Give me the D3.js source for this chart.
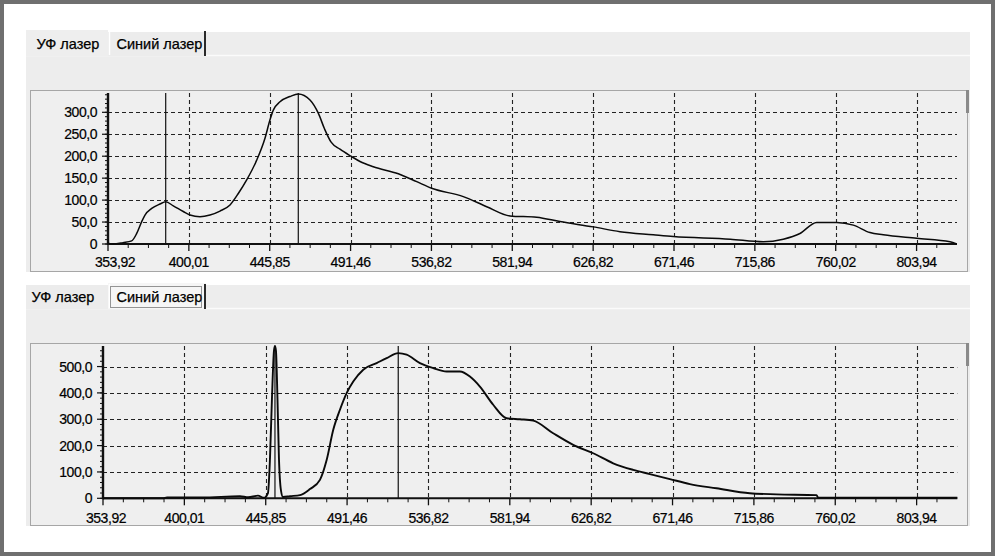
<!DOCTYPE html>
<html><head><meta charset="utf-8">
<script src="https://cdn.jsdelivr.net/npm/d3@7"></script>
<style>
body{margin:0;background:#fff}
svg{display:block;font-family:"Liberation Sans",Arial,sans-serif}
</style>
</head><body><svg id="c" width="995" height="556"></svg>
<script>
// ---------- data ----------
const tabNames = ["УФ лазер", "Синий лазер"];
const xTickValues = [353.92, 400.01, 445.85, 491.46, 536.82, 581.94, 626.82, 671.46, 715.86, 760.02, 803.94];
const xTickLabels = ["353,92", "400,01", "445,85", "491,46", "536,82", "581,94", "626,82", "671,46", "715,86", "760,02", "803,94"];
const xDomainEnd = 825.78;

const uvWavelength = [353.92, 356.77, 362.47, 367.43, 370.28, 373.13, 375.01, 378.83, 383.56, 386.81, 391.14, 396.83,
  400.65, 406.32, 412.0, 417.66, 423.34, 428.04, 432.8, 438.47, 443.17, 446.01, 447.87, 451.65, 457.29, 461.97,
  468.57, 473.25, 476.8, 480.5, 485.49, 491.7, 496.74, 504.21, 518.24, 528.57, 536.96, 554.6, 567.66, 580.66,
  595.49, 608.42, 626.9, 641.64, 660.02, 671.06, 702.37, 720.46, 731.38, 740.5, 749.62, 760.55, 769.56, 778.63,
  785.86, 803.98, 822.0, 825.6];
const uvIntensity = [2, 0, 3, 7, 24, 51, 66, 81, 91, 96, 87, 74,
  66, 62, 66, 75, 89, 115, 146, 191, 241, 283, 305, 324, 336, 342,
  328, 298, 262, 232, 216, 200, 188, 176, 160, 142, 127, 108, 85, 64,
  61, 51, 39, 28, 21, 17, 11, 5, 11, 24, 49, 49, 43, 26,
  21, 13, 5, 0];

const blueWavelength = [353.92, 388.0, 390.2, 410.0, 431.34, 436.0, 441.48, 444.86, 447.1, 448.23, 449.35, 450.47,
  451.03, 451.59, 452.43, 453.27, 454.39, 455.52, 459.44, 465.05, 470.65, 476.25, 480.0, 483.71, 487.46, 491.21,
  494.89, 500.47, 507.93, 513.51, 519.98, 524.66, 532.07, 539.47, 546.9, 554.27, 559.82, 565.36, 572.73, 580.17,
  587.52, 594.85, 605.86, 616.9, 627.93, 638.9, 649.87, 659.03, 669.99, 680.92, 695.48, 713.65, 728.17, 749.86,
  750.73, 825.78];
const blueIntensity = [0, 0, 3, 3, 8, 4, 10, 2, 20, 150, 380, 560,
  578, 560, 380, 150, 30, 5, 8, 12, 35, 70, 145, 260, 336, 399,
  443, 488, 513, 532, 551, 545, 513, 494, 481, 481, 462, 424, 355, 304,
  300, 295, 247, 203, 171, 133, 108, 92, 73, 54, 38, 19, 15, 12,
  3, 2];

const uvYTicks = [0, 50, 100, 150, 200, 250, 300];
const uvYLabels = ["0", "50,0", "100,0", "150,0", "200,0", "250,0", "300,0"];
const blueYTicks = [0, 100, 200, 300, 400, 500];
const blueYLabels = ["0", "100,0", "200,0", "300,0", "400,0", "500,0"];
const uvCursors = [386.81, 461.97];
const blueCursors = [451.03, 519.98];

// ---------- layout ----------
const panels = [
  {top: 32, active: 0, frameTop: 90, frameBottom: 272, axisX: 108, axisRight: 957, yBase: 244, yTop: 93,
   yMax: 344, yMinor: 10, wl: uvWavelength, val: uvIntensity, yTicks: uvYTicks, yLabels: uvYLabels,
   cursors: uvCursors, lw: 1.5, labelY: 267, firstLabelShift: 7},
  {top: 285, active: 1, frameTop: 343, frameBottom: 526, axisX: 103, axisRight: 957.3, yBase: 498.3, yTop: 346,
   yMax: 578, yMinor: 20, wl: blueWavelength, val: blueIntensity, yTicks: blueYTicks, yLabels: blueYLabels,
   cursors: blueCursors, lw: 1.9, labelY: 523, firstLabelShift: 3}
];

const svg = d3.select("#c");
svg.append("rect").attr("width", 995).attr("height", 556).attr("fill", "#fff");
svg.append("rect").attr("x", 2).attr("y", 2).attr("width", 991).attr("height", 552)
  .attr("fill", "none").attr("stroke", "#6f6f6f").attr("stroke-width", 4);

const tabX = [[26, 108], [108, 206]];
const labelFont = {size: 14, ls: -0.45};

panels.forEach(p => {
  const g = svg.append("g");
  // panel background
  g.append("rect").attr("x", 26).attr("y", p.top).attr("width", 944).attr("height", p.frameBottom - p.top)
    .attr("fill", "#ededed");
  g.append("line").attr("x1", 26).attr("x2", 970).attr("y1", p.top + 23.5).attr("y2", p.top + 23.5)
    .attr("stroke", "#fbfbfb").attr("stroke-width", 1.5);
  // tabs
  tabNames.forEach((name, i) => {
    const [x0, x1] = tabX[i];
    const act = i === p.active;
    g.append("rect").attr("x", x0).attr("y", p.top - (act ? 2 : 0)).attr("width", x1 - x0)
      .attr("height", 24 + (act ? 2 : 0)).attr("fill", act ? (i === 1 ? "#f6f6f6" : "#eeeeee") : "#ececec");
    if (i === 1) {
      g.append("line").attr("x1", x0 + 1.5).attr("x2", x0 + 1.5).attr("y1", p.top - 1).attr("y2", p.top + 23)
        .attr("stroke", "#ffffff").attr("stroke-width", 1.5);
      g.append("line").attr("x1", x1 - 1).attr("x2", x1 - 1).attr("y1", p.top - 1).attr("y2", p.top + 24)
        .attr("stroke", "#2a2a2a").attr("stroke-width", 2);
    }
    g.append("text").attr("x", i === 0 ? x0 + (p.active === 0 ? 10.5 : 5.5) : x0 + 8.5)
      .attr("y", p.top + 16.5).attr("font-size", 14.5)
      .attr("fill", "#000").attr("stroke", "#000").attr("stroke-width", 0.25).text(name);
    if (act && i === 1) {
      g.append("rect").attr("x", x0 + 2.5).attr("y", p.top + 1.5).attr("width", x1 - x0 - 7).attr("height", 21)
        .attr("fill", "none").attr("stroke", "#333").attr("stroke-dasharray", "1,1");
    }
  });
  // chart frame
  g.append("rect").attr("x", 30.5).attr("y", p.frameTop + 0.5).attr("width", 937)
    .attr("height", p.frameBottom - p.frameTop - 1).attr("fill", "#efefef").attr("stroke", "#a6a6a6");
  g.append("rect").attr("x", 966).attr("y", p.frameTop).attr("width", 3).attr("height", 23).attr("fill", "#8a8a8a");

  // scales
  const step = (p.axisRight - p.axisX) / 10.5;
  const dom = xTickValues.concat([xDomainEnd]);
  const x = d3.scaleLinear().domain(dom).range(dom.map((d, i) => p.axisX + (i < xTickValues.length ? i : 10.5) * step));
  const y = d3.scaleLinear().domain([0, p.yMax]).range([p.yBase, p.yTop]);

  // grid
  const dash = "4,3";
  p.yTicks.slice(1).forEach(v => {
    g.append("line").attr("x1", p.axisX).attr("x2", p.axisRight).attr("y1", Math.round(y(v)) + 0.5)
      .attr("y2", Math.round(y(v)) + 0.5).attr("stroke", "#222").attr("stroke-width", 1.1).attr("stroke-dasharray", dash);
  });
  xTickValues.slice(1).forEach(v => {
    g.append("line").attr("x1", Math.round(x(v)) + 0.5).attr("x2", Math.round(x(v)) + 0.5)
      .attr("y1", p.yTop).attr("y2", p.yBase).attr("stroke", "#222").attr("stroke-width", 1.1).attr("stroke-dasharray", dash);
  });

  // x minor ticks
  const minors = [];
  for (let i = 0; i < xTickValues.length - 1; i++) {
    for (let k = 1; k < 4; k++) minors.push(xTickValues[i] + k / 4 * (xTickValues[i + 1] - xTickValues[i]));
  }
  minors.push(xTickValues[10] + 0.5 * (xDomainEnd - xTickValues[10]));
  minors.forEach(v => {
    g.append("line").attr("x1", x(v)).attr("x2", x(v)).attr("y1", p.yBase).attr("y2", p.yBase + 4)
      .attr("stroke", "#111");
  });
  xTickValues.forEach((v, i) => {
    g.append("line").attr("x1", x(v)).attr("x2", x(v)).attr("y1", p.yBase).attr("y2", p.yBase + 7)
      .attr("stroke", "#111").attr("stroke-width", 1.3);
    g.append("text").attr("x", x(v) + (i === 0 ? p.firstLabelShift : 0)).attr("y", p.labelY).attr("text-anchor", "middle")
      .attr("font-size", labelFont.size).attr("letter-spacing", labelFont.ls).attr("fill", "#000")
      .attr("stroke", "#000").attr("stroke-width", 0.2).text(xTickLabels[i]);
  });

  // y minor ticks
  d3.range(0, p.yMax, p.yMinor).forEach(v => {
    g.append("line").attr("x1", p.axisX - 3).attr("x2", p.axisX).attr("y1", y(v)).attr("y2", y(v))
      .attr("stroke", "#111");
  });
  p.yTicks.forEach((v, i) => {
    g.append("line").attr("x1", p.axisX - 6).attr("x2", p.axisX).attr("y1", y(v)).attr("y2", y(v))
      .attr("stroke", "#111").attr("stroke-width", 1.2);
    g.append("text").attr("x", p.axisX - 11).attr("y", y(v) + 5).attr("text-anchor", "end")
      .attr("font-size", labelFont.size).attr("letter-spacing", labelFont.ls).attr("fill", "#000")
      .attr("stroke", "#000").attr("stroke-width", 0.2).text(p.yLabels[i]);
  });

  // axes
  g.append("line").attr("x1", p.axisX).attr("x2", p.axisX).attr("y1", p.yTop).attr("y2", p.yBase + 1)
    .attr("stroke", "#111").attr("stroke-width", 2.4);
  g.append("line").attr("x1", p.axisX).attr("x2", p.axisRight).attr("y1", p.yBase).attr("y2", p.yBase)
    .attr("stroke", "#111").attr("stroke-width", 2);

  // cursors
  p.cursors.forEach(v => {
    g.append("line").attr("x1", x(v)).attr("x2", x(v)).attr("y1", p.yTop).attr("y2", p.yBase)
      .attr("stroke", "#111").attr("stroke-width", 1.2);
  });

  // curve
  const pts = p.wl.map((w, i) => [w, p.val[i]]);
  const line = d3.line().x(d => x(d[0])).y(d => y(d[1])).curve(d3.curveMonotoneX);
  g.append("path").attr("d", line(pts)).attr("fill", "none").attr("stroke", "#0a0a0a")
    .attr("stroke-width", p.lw).attr("stroke-linejoin", "round");
});
</script>
</body></html>
